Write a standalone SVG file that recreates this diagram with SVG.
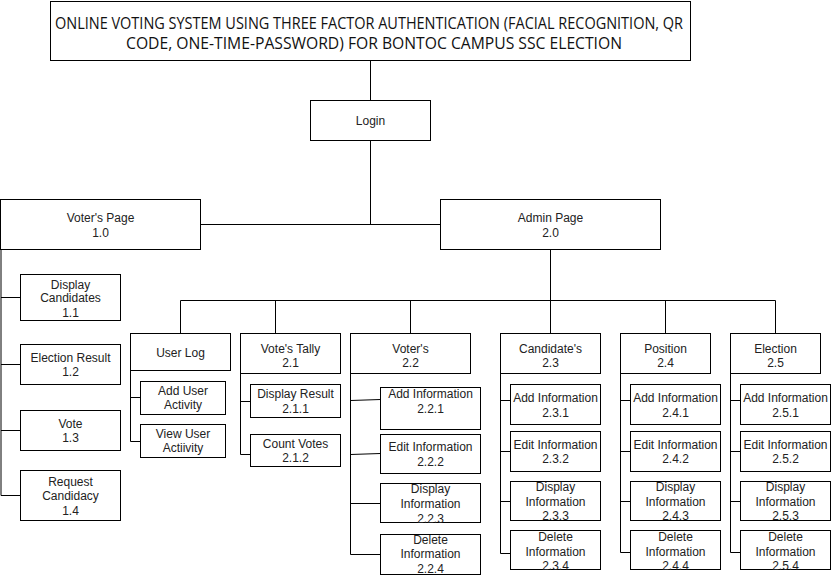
<svg xmlns="http://www.w3.org/2000/svg" width="831" height="575" viewBox="0 0 831 575">
<style>
rect.b{fill:#fff;stroke:#000;stroke-width:1}
.c path{fill:none;stroke:#000;stroke-width:1}
text.t{font-family:"Liberation Sans",Arial,sans-serif;font-size:12px;fill:#222;text-anchor:middle}
text.h{font-family:"Open Sans","Liberation Sans",sans-serif;font-size:16px;fill:#111}
</style>
<rect width="831" height="575" fill="#fff"/>
<g class="c" id="connectors">
<path d="M370.5,61 V100"/>
<path d="M370.5,140.5 V224.5 M200.5,224.5 H440.5"/>
<path d="M550.5,249.5 V300.5 M180.5,300.5 H775.5 M180.5,300.5 V333.5 M275.5,300.5 V333.5 M410.5,300.5 V333.5 M550.5,300.5 V333.5 M665.5,300.5 V333.5 M775.5,300.5 V333.5"/>
<path d="M1,249.5 V495.5 M1,297.5 H20.5 M1,364.5 H20.5 M1,430.5 H20.5 M1,495.5 H20.5"/>
<path d="M130.5,370.5 V441.5 M130.5,397.5 H140.5 M130.5,441.5 H140.5"/>
<path d="M240.5,373.5 V454.5 M240.5,401.5 H250.5 M240.5,454.5 H250.5"/>
<path d="M350.5,373.5 V554.5 M350.5,400.5 L380.5,399.5 M350.5,454.5 L380.5,453.5 M350.5,503.5 H380.5 M350.5,554.5 H380.5"/>
<path d="M500.5,373.5 V553.5 M500.5,400.5 H510.5 M500.5,451.5 H510.5 M500.5,501.5 H510.5 M500.5,553.5 H510.5"/>
<path d="M620.5,373.5 V552.5 M620.5,400.5 H630.5 M620.5,451.5 H630.5 M620.5,501.5 H630.5 M620.5,552.5 H630.5"/>
<path d="M730.5,373.5 V552.5 M730.5,400.5 H740.5 M730.5,451.5 H740.5 M730.5,501.5 H740.5 M730.5,552.5 H740.5"/>
</g>
<g id="title"><rect class="b" x="50.5" y="1.5" width="640" height="59"/>
<text class="h" x="55" y="28.5" textLength="628" lengthAdjust="spacingAndGlyphs">ONLINE VOTING SYSTEM USING THREE FACTOR AUTHENTICATION (FACIAL RECOGNITION, QR</text>
<text class="h" x="126" y="48.5" textLength="496" lengthAdjust="spacingAndGlyphs">CODE, ONE-TIME-PASSWORD) FOR BONTOC CAMPUS SSC ELECTION</text></g>
<g id="login"><rect class="b" x="310.5" y="100.5" width="120" height="40"/><text class="t" x="370.5" y="124.5">Login</text></g>
<g id="voters-page"><rect class="b" x="0.5" y="199.5" width="200" height="50"/><text class="t" x="100.5" y="222">Voter's Page<tspan x="100.5" y="237">1.0</tspan></text></g>
<g id="admin-page"><rect class="b" x="440.5" y="199.5" width="220" height="50"/><text class="t" x="550.5" y="222">Admin Page<tspan x="550.5" y="237">2.0</tspan></text></g>
<g id="n1-1"><rect class="b" x="20.5" y="274.5" width="100" height="46"/><text class="t" x="70.5" y="288.5">Display<tspan x="70.5" y="302">Candidates</tspan><tspan x="70.5" y="316.5">1.1</tspan></text></g>
<g id="n1-2"><rect class="b" x="20.5" y="344.5" width="100" height="40"/><text class="t" x="70.5" y="361.5">Election Result<tspan x="70.5" y="376">1.2</tspan></text></g>
<g id="n1-3"><rect class="b" x="20.5" y="410.5" width="100" height="40"/><text class="t" x="70.5" y="427.5">Vote<tspan x="70.5" y="441.5">1.3</tspan></text></g>
<g id="n1-4"><rect class="b" x="20.5" y="470.5" width="100" height="50"/><text class="t" x="70.5" y="485.5">Request<tspan x="70.5" y="500">Candidacy</tspan><tspan x="70.5" y="515">1.4</tspan></text></g>
<g id="user-log"><rect class="b" x="130.5" y="333.5" width="100" height="37"/><text class="t" x="180.5" y="357">User Log</text></g>
<g id="add-user-activity"><rect class="b" x="140.5" y="381.5" width="85" height="33"/><text class="t" x="183" y="395">Add User<tspan x="183" y="409">Activity</tspan></text></g>
<g id="view-user-activity"><rect class="b" x="140.5" y="424.5" width="85" height="33"/><text class="t" x="183" y="437.5">View User<tspan x="183" y="451.5">Actiivity</tspan></text></g>
<g id="n2-1"><rect class="b" x="240.5" y="333.5" width="100" height="40"/><text class="t" x="290.5" y="352.5">Vote's Tally<tspan x="290.5" y="367">2.1</tspan></text></g>
<g id="n2-1-1"><rect class="b" x="250.5" y="384.5" width="90" height="33"/><text class="t" x="295.5" y="397.5">Display Result<tspan x="295.5" y="412.5">2.1.1</tspan></text></g>
<g id="n2-1-2"><rect class="b" x="250.5" y="434.5" width="90" height="32"/><text class="t" x="295.5" y="447.5">Count Votes<tspan x="295.5" y="462">2.1.2</tspan></text></g>
<g id="n2-2"><rect class="b" x="350.5" y="333.5" width="120" height="40"/><text class="t" x="410.5" y="352.5">Voter's<tspan x="410.5" y="367">2.2</tspan></text></g>
<g id="n2-2-1"><rect class="b" x="380.5" y="387.5" width="100" height="42"/><text class="t" x="430.5" y="397.5">Add Information<tspan x="430.5" y="412.5">2.2.1</tspan></text></g>
<g id="n2-2-2"><rect class="b" x="380.5" y="434.5" width="100" height="39"/><text class="t" x="430.5" y="450.5">Edit Information<tspan x="430.5" y="466">2.2.2</tspan></text></g>
<g id="n2-2-3"><rect class="b" x="380.5" y="483.5" width="100" height="39"/><text class="t" x="430.5" y="492.5">Display<tspan x="430.5" y="508">Information</tspan><tspan x="430.5" y="523">2.2.3</tspan></text></g>
<g id="n2-2-4"><rect class="b" x="380.5" y="534.5" width="100" height="40"/><text class="t" x="430.5" y="543.5">Delete<tspan x="430.5" y="558">Information</tspan><tspan x="430.5" y="573">2.2.4</tspan></text></g>
<g id="n2-3"><rect class="b" x="500.5" y="333.5" width="100" height="40"/><text class="t" x="550.5" y="352.5">Candidate's<tspan x="550.5" y="367">2.3</tspan></text></g>
<g id="n2-3-1"><rect class="b" x="510.5" y="384.5" width="90" height="40"/><text class="t" x="555.5" y="402">Add Information<tspan x="555.5" y="416.5">2.3.1</tspan></text></g>
<g id="n2-3-2"><rect class="b" x="510.5" y="431.5" width="90" height="40"/><text class="t" x="555.5" y="448.5">Edit Information<tspan x="555.5" y="463">2.3.2</tspan></text></g>
<g id="n2-3-3"><rect class="b" x="510.5" y="481.5" width="90" height="39"/><text class="t" x="555.5" y="491">Display<tspan x="555.5" y="505.5">Information</tspan><tspan x="555.5" y="520">2.3.3</tspan></text></g>
<g id="n2-3-4"><rect class="b" x="510.5" y="530.5" width="90" height="39"/><text class="t" x="555.5" y="541">Delete<tspan x="555.5" y="555.5">Information</tspan><tspan x="555.5" y="570">2.3.4</tspan></text></g>
<g id="n2-4"><rect class="b" x="620.5" y="333.5" width="90" height="40"/><text class="t" x="665.5" y="352.5">Position<tspan x="665.5" y="367">2.4</tspan></text></g>
<g id="n2-4-1"><rect class="b" x="630.5" y="384.5" width="90" height="40"/><text class="t" x="675.5" y="402">Add Information<tspan x="675.5" y="416.5">2.4.1</tspan></text></g>
<g id="n2-4-2"><rect class="b" x="630.5" y="431.5" width="90" height="40"/><text class="t" x="675.5" y="448.5">Edit Information<tspan x="675.5" y="463">2.4.2</tspan></text></g>
<g id="n2-4-3"><rect class="b" x="630.5" y="481.5" width="90" height="39"/><text class="t" x="675.5" y="491">Display<tspan x="675.5" y="505.5">Information</tspan><tspan x="675.5" y="520">2.4.3</tspan></text></g>
<g id="n2-4-4"><rect class="b" x="630.5" y="530.5" width="90" height="39"/><text class="t" x="675.5" y="541">Delete<tspan x="675.5" y="555.5">Information</tspan><tspan x="675.5" y="570">2.4.4</tspan></text></g>
<g id="n2-5"><rect class="b" x="730.5" y="333.5" width="90" height="40"/><text class="t" x="775.5" y="352.5">Election<tspan x="775.5" y="367">2.5</tspan></text></g>
<g id="n2-5-1"><rect class="b" x="740.5" y="384.5" width="90" height="40"/><text class="t" x="785.5" y="402">Add Information<tspan x="785.5" y="416.5">2.5.1</tspan></text></g>
<g id="n2-5-2"><rect class="b" x="740.5" y="431.5" width="90" height="40"/><text class="t" x="785.5" y="448.5">Edit Information<tspan x="785.5" y="463">2.5.2</tspan></text></g>
<g id="n2-5-3"><rect class="b" x="740.5" y="481.5" width="90" height="39"/><text class="t" x="785.5" y="491">Display<tspan x="785.5" y="505.5">Information</tspan><tspan x="785.5" y="520">2.5.3</tspan></text></g>
<g id="n2-5-4"><rect class="b" x="740.5" y="530.5" width="90" height="39"/><text class="t" x="785.5" y="541">Delete<tspan x="785.5" y="555.5">Information</tspan><tspan x="785.5" y="570">2.5.4</tspan></text></g>
</svg>
